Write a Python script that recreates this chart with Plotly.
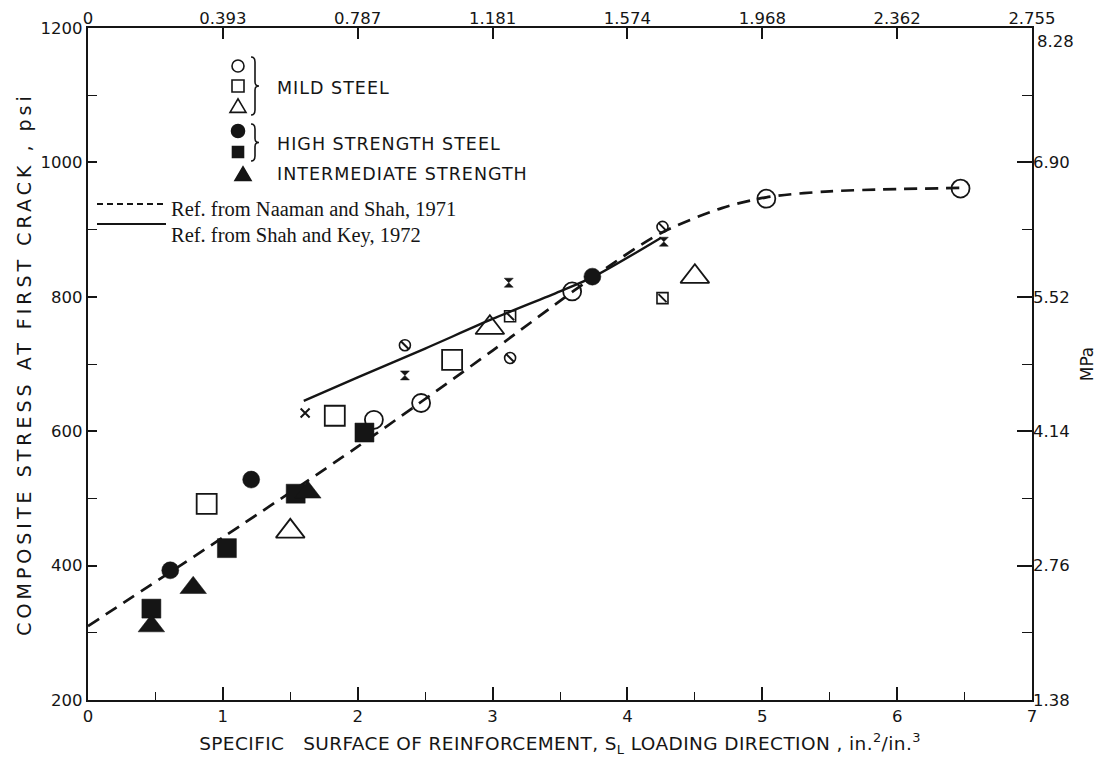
import plotly.graph_objects as go

# ---------------- data ----------------
mild_circle_x = [2.12, 2.47, 3.59, 5.03, 6.47]
mild_circle_y = [617, 642, 808, 946, 961]
mild_square_x = [0.88, 1.83, 2.70]
mild_square_y = [492, 623, 706]
mild_tri_x = [1.50, 2.98, 4.50]
mild_tri_y = [451, 754, 830]

high_circle_x = [0.61, 1.21, 3.74]
high_circle_y = [393, 528, 830]
high_square_x = [0.47, 1.03, 1.54, 2.05]
high_square_y = [336, 426, 507, 598]
inter_tri_x = [0.47, 0.78, 1.63]
inter_tri_y = [310, 367, 509]

hatch_circle_x = [2.35, 3.13, 4.26]
hatch_circle_y = [728, 709, 904]
hatch_square_x = [3.13, 4.26]
hatch_square_y = [771, 798]
hourglass_x = [2.35, 3.12, 4.27]
hourglass_y = [683, 821, 882]
cross_x = [1.61]
cross_y = [627]

naaman_x = [0, 1, 2, 3, 3.75, 4.25, 4.7, 5.03, 5.5, 6.47]
naaman_y = [310, 442, 577, 720, 830, 895, 932, 948, 957, 962]
shahkey_x = [1.6, 2.0, 2.5, 3.0, 3.5, 3.75, 4.25]
shahkey_y = [645, 680, 723, 767, 808, 830, 888]

x_ticks = [0, 1, 2, 3, 4, 5, 6, 7]
top_tick_text = ["0", "0.393", "0.787", "1.181", "1.574", "1.968", "2.362", "2.755"]
y_ticks = [200, 400, 600, 800, 1000, 1200]
mpa_tick_text = ["1.38", "2.76", "4.14", "5.52", "6.90", "8.28"]

# ---------------- styling ----------------
INK = "#151515"
SANS = "DejaVu Sans, Liberation Sans, Arial"
SERIF = "Liberation Serif, Times New Roman, serif"
OFF = 8  # page body margin
W, H = 1107, 776
# plot area in the screenshot: x 88..1032, y 28..700
ML, MT = 88 - OFF, 28 - OFF
MR, MB = W - (1032 - OFF), H - (700 - OFF)
PW, PH = W - ML - MR, H - MT - MB


def px_x(p):
    return (p - OFF - ML) / PW


def px_y(p):
    return (H - MB - (p - OFF)) / PH


def spaced(text, px):
    return '<span style="letter-spacing:{}px">{}</span>'.format(px, text)


fig = go.Figure()


def add_pts(x, y, symbol, size, fill, lw=2):
    fig.add_trace(go.Scatter(
        x=x, y=y, mode="markers", showlegend=False, hoverinfo="skip",
        marker=dict(symbol=symbol, size=size, color=fill,
                    line=dict(color=INK, width=lw))))


# lines
fig.add_trace(go.Scatter(x=naaman_x, y=naaman_y, mode="lines", showlegend=False, hoverinfo="skip",
                         line=dict(color=INK, width=2.7, dash="13px,8px", shape="spline", smoothing=0.8)))
fig.add_trace(go.Scatter(x=shahkey_x, y=shahkey_y, mode="lines", showlegend=False, hoverinfo="skip",
                         line=dict(color=INK, width=2.4, shape="spline", smoothing=0.8)))

# mild steel (open)
add_pts(mild_circle_x, mild_circle_y, "circle-open", 18, INK, 1.8)
add_pts(mild_square_x, mild_square_y, "square-open", 20, INK, 1.8)
add_pts(mild_tri_x, mild_tri_y, "triangle-up-open", 25, INK, 1.8)
# high strength (filled)
add_pts(high_circle_x, high_circle_y, "circle", 17, INK, 0.5)
add_pts(high_square_x, high_square_y, "square", 19, INK, 0.5)
add_pts(inter_tri_x, inter_tri_y, "triangle-up", 23, INK, 0.5)
# small hatched markers
add_pts(hatch_circle_x, hatch_circle_y, "circle-open", 11, INK, 1.6)
add_pts(hatch_circle_x, hatch_circle_y, "line-nw", 8, INK, 2)
add_pts(hatch_square_x, hatch_square_y, "square-open", 11, INK, 1.6)
add_pts(hatch_square_x, hatch_square_y, "line-nw", 8, INK, 2)
add_pts(hourglass_x, hourglass_y, "hourglass", 9, INK, 0.5)
add_pts(cross_x, cross_y, "x-thin-open", 9, INK, 2)

# invisible carrier so the secondary (top / MPa) axes are drawn
fig.add_trace(go.Scatter(x=naaman_x, y=naaman_y, xaxis="x2", yaxis="y2", mode="lines",
                         line=dict(width=0, color="rgba(0,0,0,0)"), hoverinfo="skip", showlegend=False))

# ---------------- custom legend (shapes + annotations) ----------------
shapes = []
annotations = []


def sym_circle(cx, cy, r, filled):
    shapes.append(dict(type="circle", xref="paper", yref="paper",
                       x0=px_x(cx - r), x1=px_x(cx + r), y0=px_y(cy + r), y1=px_y(cy - r),
                       line=dict(color=INK, width=1.6), fillcolor=INK if filled else "rgba(0,0,0,0)"))


def sym_square(cx, cy, r, filled):
    shapes.append(dict(type="rect", xref="paper", yref="paper",
                       x0=px_x(cx - r), x1=px_x(cx + r), y0=px_y(cy + r), y1=px_y(cy - r),
                       line=dict(color=INK, width=1.6), fillcolor=INK if filled else "rgba(0,0,0,0)"))


def sym_tri(cx, cy, r, filled):
    p = "M {} {} L {} {} L {} {} Z".format(px_x(cx - r), px_y(cy + r * 0.8), px_x(cx + r), px_y(cy + r * 0.8),
                                           px_x(cx), px_y(cy - r * 0.9))
    shapes.append(dict(type="path", xref="paper", yref="paper", path=p,
                       line=dict(color=INK, width=1.6), fillcolor=INK if filled else "rgba(0,0,0,0)"))


def brace(x, top, bot):
    mid = (top + bot) / 2
    p = "M {} {} Q {} {} {} {} L {} {} Q {} {} {} {} Q {} {} {} {} L {} {} Q {} {} {} {}".format(
        px_x(x), px_y(top),
        px_x(x + 4), px_y(top), px_x(x + 4), px_y(top + 5),
        px_x(x + 4), px_y(mid - 4),
        px_x(x + 4), px_y(mid), px_x(x + 8), px_y(mid),
        px_x(x + 4), px_y(mid), px_x(x + 4), px_y(mid + 4),
        px_x(x + 4), px_y(bot - 5),
        px_x(x + 4), px_y(bot), px_x(x), px_y(bot))
    shapes.append(dict(type="path", xref="paper", yref="paper", path=p,
                       line=dict(color=INK, width=1.6)))


def label(x, y, text, font, size, anchor="left"):
    annotations.append(dict(x=px_x(x), y=px_y(y), xref="paper", yref="paper", text=text,
                            showarrow=False, xanchor=anchor, yanchor="middle", borderpad=0,
                            font=dict(family=font, size=size, color=INK)))


sym_circle(238, 66, 6, False)
sym_square(238, 86, 6, False)
sym_tri(238, 106, 8, False)
brace(251, 57, 115)
label(276, 88, spaced("MILD STEEL", 1), SANS, 17.5)

sym_circle(238, 131, 6.5, True)
sym_square(238, 152, 5.5, True)
brace(251, 124, 161)
label(276, 144, spaced("HIGH STRENGTH STEEL", 1), SANS, 17.5)

sym_tri(243, 174, 8, True)
label(276, 174, spaced("INTERMEDIATE STRENGTH", 1), SANS, 17.5)

shapes.append(dict(type="line", xref="paper", yref="paper", x0=px_x(97), x1=px_x(166),
                   y0=px_y(204), y1=px_y(204), line=dict(color=INK, width=1.8, dash="6px,4px")))
label(170, 209, "Ref. from Naaman and Shah, 1971", SERIF, 20.5)
shapes.append(dict(type="line", xref="paper", yref="paper", x0=px_x(97), x1=px_x(166),
                   y0=px_y(224), y1=px_y(224), line=dict(color=INK, width=1.8)))
label(170, 235, "Ref. from Shah and Key, 1972", SERIF, 20.5)

# top-right MPa label sits just below the corner (as in the reference)
annotations.append(dict(x=1, y=1, xref="paper", yref="paper", text=mpa_tick_text[-1],
                        showarrow=False, xanchor="left", yanchor="top", xshift=3, yshift=-2,
                        font=dict(family=SANS, size=16.5, color=INK)))

# ---------------- axes ----------------
tickfont = dict(family=SANS, size=16.5, color=INK)
fig.update_layout(
    width=W, height=H,
    margin=dict(l=ML, r=MR, t=MT, b=MB, autoexpand=False),
    paper_bgcolor="white", plot_bgcolor="white",
    shapes=shapes, annotations=annotations,
    xaxis=dict(range=[0, 7], tickvals=x_ticks, ticks="inside", ticklen=13, tickwidth=1.5,
               tickcolor=INK, showgrid=False, zeroline=False, showline=True, linewidth=2.2,
               linecolor=INK, mirror=True, tickfont=tickfont, automargin=False,
               minor=dict(dtick=0.5, ticks="inside", ticklen=8, tickwidth=1.3, tickcolor=INK,
                          showgrid=False),
               title=dict(text=spaced("SPECIFIC   SURFACE OF REINFORCEMENT, S<sub>L</sub> LOADING DIRECTION , in.<sup>2</sup>/in.<sup>3</sup>", 0.4),
                          font=dict(family=SANS, size=18.5, color=INK), standoff=12)),
    xaxis2=dict(range=[0, 7], overlaying="x", side="top", tickvals=x_ticks, ticktext=top_tick_text,
                ticks="inside", ticklen=11, tickwidth=1.5, tickcolor=INK, showgrid=False,
                zeroline=False, showline=False, tickfont=tickfont, automargin=False),
    yaxis=dict(range=[200, 1200], tickvals=y_ticks, ticks="inside", ticklen=9, tickwidth=1.5,
               tickcolor=INK, showgrid=False, zeroline=False, showline=True, linewidth=2.2,
               linecolor=INK, mirror=True, tickfont=tickfont, automargin=False,
               minor=dict(dtick=100, ticks="inside", ticklen=9, tickwidth=1.3, tickcolor=INK,
                          showgrid=False),
               title=dict(text=spaced("COMPOSITE STRESS AT FIRST CRACK , psi", 4),
                          font=dict(family=SANS, size=19, color=INK), standoff=4)),
    yaxis2=dict(range=[200, 1200], overlaying="y", side="right", tickvals=y_ticks,
                ticktext=mpa_tick_text[:-1] + [""], ticks="inside", ticklen=15, tickwidth=1.5,
                tickcolor=INK, showgrid=False, zeroline=False, showline=False, tickfont=tickfont,
                automargin=False,
                minor=dict(dtick=100, ticks="inside", ticklen=10, tickwidth=1.3, tickcolor=INK,
                           showgrid=False),
                title=dict(text="MPa", font=dict(family=SANS, size=17, color=INK), standoff=12)),
)

fig.write_html("out.html")
